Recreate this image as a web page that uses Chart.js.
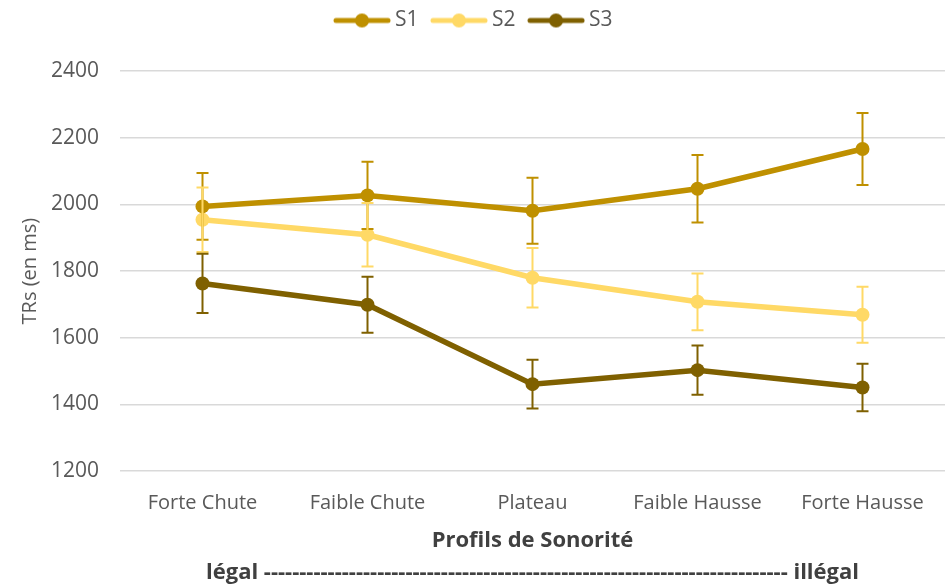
<!DOCTYPE html>
<html>
<head>
<meta charset="utf-8">
<script src="https://cdn.jsdelivr.net/npm/chart.js@4"></script>
<style>
  html, body { margin: 0; padding: 0; background: #fff; overflow: hidden; }
  #wrap { width: 952px; height: 587px; }
</style>
</head>
<body>
<div id="wrap"><canvas id="chart"></canvas></div>
<script>
const categories = ['Forte Chute', 'Faible Chute', 'Plateau', 'Faible Hausse', 'Forte Hausse'];
const seriesNames = ['S1', 'S2', 'S3'];
const s1 = [1994, 2027, 1981, 2047, 2166];
const s2 = [1954, 1909, 1780, 1708, 1669];
const s3 = [1763, 1699, 1461, 1503, 1451];
const s1Err = [100, 101, 99, 101, 108];
const s2Err = [97, 95, 89, 85, 84];
const s3Err = [89, 84, 73, 74, 71];
const yTicks = [1200, 1400, 1600, 1800, 2000, 2200, 2400];
const colors = ['#BF9000', '#FFD966', '#7F6000'];

// legend marker: short line with a dot in the middle
function legendIcon(color) {
    const c = document.createElement('canvas');
    c.width = 58; c.height = 16;
    const g = c.getContext('2d');
    g.strokeStyle = color;
    g.lineWidth = 5;
    g.lineCap = 'round';
    g.beginPath(); g.moveTo(3, 8); g.lineTo(55, 8); g.stroke();
    g.fillStyle = color;
    g.beginPath(); g.arc(29, 8, 7, 0, Math.PI * 2); g.fill();
    return c;
}

const errorBars = {
    id: 'errorBars',
    afterDatasetsDraw(chart) {
        const ctx = chart.ctx;
        const y = chart.scales.y;
        chart.data.datasets.forEach((ds, i) => {
            const meta = chart.getDatasetMeta(i);
            ctx.save();
            ctx.strokeStyle = ds.borderColor;
            ctx.lineWidth = 2;
            meta.data.forEach((pt, j) => {
                const top = y.getPixelForValue(ds.data[j] + ds.errors[j]);
                const bot = y.getPixelForValue(ds.data[j] - ds.errors[j]);
                ctx.beginPath();
                ctx.moveTo(pt.x, top); ctx.lineTo(pt.x, bot);
                ctx.moveTo(pt.x - 6, top); ctx.lineTo(pt.x + 6, top);
                ctx.moveTo(pt.x - 6, bot); ctx.lineTo(pt.x + 6, bot);
                ctx.stroke();
            });
            ctx.restore();
        });
    }
};

// extra room under the legend
const legendGap = {
    id: 'legendGap',
    beforeInit(chart) {
        const fit = chart.legend.fit;
        chart.legend.fit = function() {
            fit.bind(chart.legend)();
            this.height += 30;
        };
    }
};

const values = [s1, s2, s3];
const errs = [s1Err, s2Err, s3Err];

new Chart(document.getElementById('chart'), {
    type: 'line',
    data: {
        labels: categories,
        datasets: seriesNames.map((name, i) => ({
            label: name,
            data: values[i],
            errors: errs[i],
            borderColor: colors[i],
            backgroundColor: colors[i],
            borderWidth: 5.5,
            pointRadius: 7,
            pointHoverRadius: 7,
            pointBorderWidth: 0,
            tension: 0
        }))
    },
    options: {
        responsive: true,
        maintainAspectRatio: false,
        animation: false,
        layout: { padding: { left: 0, right: 0, top: -8, bottom: 1 } },
        plugins: {
            legend: {
                position: 'top',
                labels: {
                    usePointStyle: true,
                    pointStyleWidth: 45,
                    color: '#595959',
                    font: { family: 'Open Sans', size: 21 },
                    padding: 18,
                    generateLabels(chart) {
                        return chart.data.datasets.map((ds, i) => ({
                            text: ds.label,
                            pointStyle: legendIcon(ds.borderColor),
                            fontColor: '#595959',
                            datasetIndex: i,
                            hidden: false,
                            lineWidth: 0
                        }));
                    }
                }
            },
            title: {
                display: true,
                position: 'bottom',
                fullSize: false,
                text: 'légal -------------------------------------------------------------------------- illégal',
                color: '#404040',
                font: { family: 'Open Sans', size: 22, weight: 'bold' },
                padding: { top: 6, bottom: 0 }
            },
            tooltip: { enabled: false }
        },
        scales: {
            x: {
                offset: true,
                grid: { display: false },
                border: { display: false },
                ticks: { color: '#595959', font: { family: 'Open Sans', size: 20 }, padding: 12 },
                title: {
                    display: true,
                    text: 'Profils de Sonorité',
                    color: '#404040',
                    font: { family: 'Open Sans', size: 22, weight: 'bold' },
                    padding: { top: 0, bottom: 0 }
                }
            },
            y: {
                min: 1200,
                max: 2400,
                afterBuildTicks(axis) { axis.ticks = yTicks.map(v => ({ value: v })); },
                afterFit(axis) { axis.width = 120; },
                grid: { color: '#d9d9d9', lineWidth: 1.5, drawTicks: false },
                border: { display: false },
                ticks: {
                    color: '#595959',
                    font: { family: 'Open Sans', size: 21 },
                    padding: 21,
                    callback: v => String(v)
                },
                title: {
                    display: true,
                    text: 'TRs (en ms)',
                    color: '#595959',
                    font: { family: 'Open Sans', size: 20 },
                    padding: { top: 18, bottom: 0 }
                }
            }
        }
    },
    plugins: [errorBars, legendGap]
});
</script>
</body>
</html>
